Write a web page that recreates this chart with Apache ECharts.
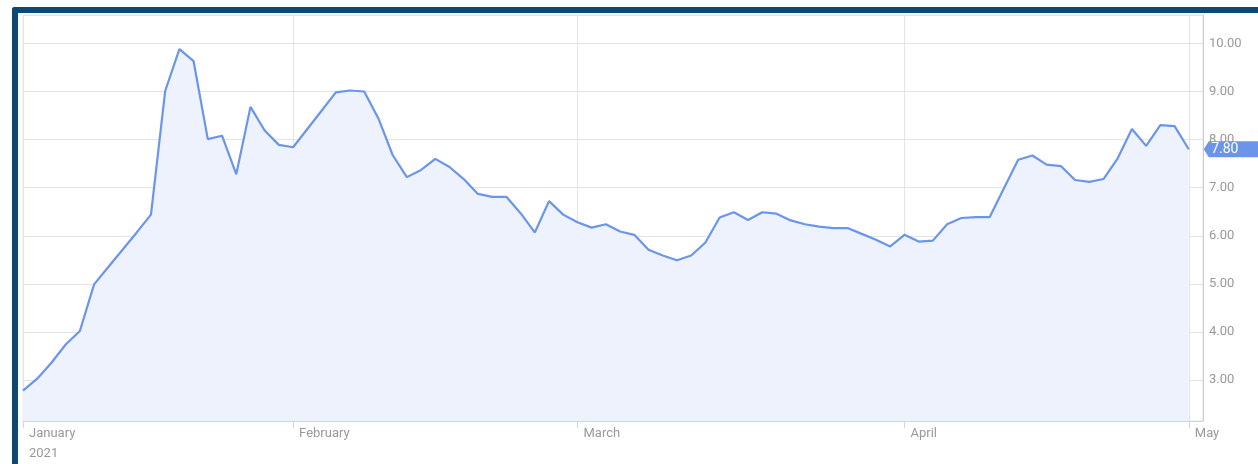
<!DOCTYPE html>
<html>
<head>
<meta charset="utf-8">
<title>Price 2021</title>
<script src="https://cdn.jsdelivr.net/npm/echarts@6/dist/echarts.min.js"></script>
<style>
  html, body { margin: 0; padding: 0; background: #ffffff; }
  #wrap { position: relative; width: 1258px; height: 464px; overflow: hidden; }
  #frame {
    position: absolute; left: 12px; top: 7px; width: 1400px; height: 600px;
    border-left: 6px solid #0c4a73; border-top: 6px solid #0c4a73;
    border-top-left-radius: 3px; box-sizing: border-box;
  }
  #chart { position: absolute; left: 0; top: 0; width: 1258px; height: 464px; }
</style>
</head>
<body>
<div id="wrap">
  <div id="frame"></div>
  <div id="chart"></div>
</div>
<script>
// Trading days shown on the chart
const dates = [
  '2021-01-04','2021-01-05','2021-01-06','2021-01-07','2021-01-08',
  '2021-01-11','2021-01-12','2021-01-13','2021-01-14','2021-01-15',
  '2021-01-19','2021-01-20','2021-01-21','2021-01-22',
  '2021-01-25','2021-01-26','2021-01-27','2021-01-28','2021-01-29',
  '2021-02-01','2021-02-02','2021-02-03','2021-02-04','2021-02-05',
  '2021-02-08','2021-02-09','2021-02-10','2021-02-11','2021-02-12',
  '2021-02-15','2021-02-16','2021-02-17','2021-02-18','2021-02-19',
  '2021-02-22','2021-02-23','2021-02-24','2021-02-25','2021-02-26',
  '2021-03-01','2021-03-02','2021-03-03','2021-03-04','2021-03-05',
  '2021-03-08','2021-03-09','2021-03-10','2021-03-11','2021-03-12',
  '2021-03-15','2021-03-16','2021-03-17','2021-03-18','2021-03-19',
  '2021-03-22','2021-03-23','2021-03-24','2021-03-25','2021-03-26',
  '2021-03-29','2021-03-30','2021-03-31',
  '2021-04-01','2021-04-06','2021-04-07','2021-04-08','2021-04-09',
  '2021-04-12','2021-04-13','2021-04-14','2021-04-15','2021-04-16',
  '2021-04-19','2021-04-20','2021-04-21','2021-04-22','2021-04-23',
  '2021-04-26','2021-04-27','2021-04-28','2021-04-29','2021-04-30',
  '2021-05-03'
];

// Closing prices
const closes = [
  2.78, 3.03, 3.36, 3.74, 4.02, 4.99, 5.35, 5.71, 6.07, 6.44,
  9.01, 9.88, 9.63, 8.01, 8.08, 7.28, 8.68, 8.19, 7.89, 7.84,
  8.22, 8.60, 8.98, 9.02, 9.00, 8.44, 7.68, 7.22, 7.37, 7.60,
  7.43, 7.18, 6.87, 6.81, 6.81, 6.47, 6.07, 6.72, 6.44, 6.28,
  6.17, 6.24, 6.09, 6.02, 5.71, 5.59, 5.49, 5.59, 5.86, 6.38,
  6.49, 6.33, 6.49, 6.46, 6.32, 6.24, 6.19, 6.16, 6.16, 6.04,
  5.92, 5.78, 6.02, 5.88, 5.90, 6.24, 6.37, 6.39, 6.39, 6.99,
  7.58, 7.67, 7.48, 7.45, 7.16, 7.12, 7.18, 7.61, 8.22, 7.87,
  8.30, 8.28, 7.80
];

// Month names used for the time axis labels
const monthNames = ['January', 'February', 'March', 'April', 'May', 'June',
  'July', 'August', 'September', 'October', 'November', 'December'];
const yearLabel = '2021';

const lineColor = '#6b95eb';
const labelColor = '#999999';
const gridColor = '#e4e4e4';

// one empty slot after the last session leaves room on the right
const categories = dates.concat(['']);

function isMonthStart(index) {
  const d = categories[index];
  if (!d) return false;
  if (index === 0) return true;
  return d.slice(0, 7) !== categories[index - 1].slice(0, 7);
}

const lastIndex = closes.length - 1;
const lastValue = closes[lastIndex];

const chart = echarts.init(document.getElementById('chart'), null, { renderer: 'canvas' });

chart.setOption({
  animation: false,
  backgroundColor: 'transparent',
  textStyle: { fontFamily: 'Roboto, sans-serif' },
  grid: {
    left: 23, right: 55, top: 15, bottom: 42,
    show: true, borderColor: gridColor, borderWidth: 1, backgroundColor: 'transparent'
  },
  xAxis: {
    type: 'category',
    data: categories,
    boundaryGap: false,
    axisLine: { show: true, lineStyle: { color: '#ccd6eb', width: 1 } },
    axisTick: {
      show: true, length: 7,
      interval: (i) => isMonthStart(i),
      lineStyle: { color: '#ccd6eb' }
    },
    splitLine: {
      show: true,
      interval: (i) => isMonthStart(i),
      lineStyle: { color: gridColor, width: 1 }
    },
    axisLabel: {
      interval: (i) => isMonthStart(i),
      align: 'left',
      margin: 3,
      padding: [0, 0, 0, 6],
      color: labelColor,
      fontSize: 13,
      lineHeight: 20,
      fontFamily: 'Roboto, sans-serif',
      formatter: function (value, index) {
        if (!value) return '';
        const m = monthNames[parseInt(value.slice(5, 7), 10) - 1];
        return index === 0 ? m + '\n' + yearLabel : m;
      }
    }
  },
  yAxis: {
    type: 'value',
    position: 'right',
    min: 2.15,
    max: 10.59,
    minInterval: 1,
    maxInterval: 1,
    splitNumber: 8,
    axisLine: { show: true, lineStyle: { color: '#cccccc' } },
    axisTick: { show: false },
    splitLine: { show: true, lineStyle: { color: gridColor, width: 1 } },
    axisLabel: {
      margin: 6,
      color: labelColor,
      fontSize: 13,
      fontFamily: 'Roboto, sans-serif',
      showMinLabel: false,
      showMaxLabel: false,
      formatter: function (v) {
        return Math.abs(v - Math.round(v)) < 1e-6 ? v.toFixed(2) : '';
      }
    }
  },
  series: [{
    type: 'line',
    data: closes,
    symbol: 'none',
    clip: false,
    lineStyle: { color: lineColor, width: 2.2 },
    itemStyle: { color: lineColor },
    areaStyle: { color: '#edf2fc', opacity: 1, origin: 'start' },
    markPoint: {
      silent: true,
      symbol: 'path://M0,8 L5,0 L60,0 L60,16 L5,16 Z',
      symbolSize: [60, 16],
      symbolOffset: [45, 0],
      itemStyle: { color: lineColor },
      label: {
        show: true,
        position: 'inside',
        offset: [-9, 0],
        color: '#ffffff',
        fontSize: 14,
        fontFamily: 'Roboto, sans-serif',
        formatter: (p) => Number(p.value).toFixed(2)
      },
      data: [{ coord: [lastIndex, lastValue], value: lastValue }]
    }
  }]
});
</script>
</body>
</html>
